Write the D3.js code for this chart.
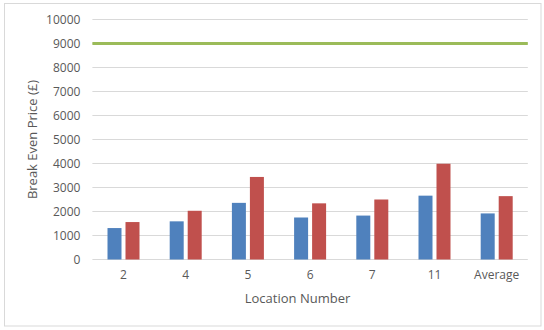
<!DOCTYPE html>
<html><head><meta charset="utf-8">
<script src="https://cdn.jsdelivr.net/npm/d3@7"></script>
<style>body{margin:0;background:#fff}svg{display:block}text{font-family:"Open Sans",sans-serif;fill:#595959}</style>
</head><body>
<svg id="c" width="544" height="330"></svg>
<script>
const categories = ["2","4","5","6","7","11","Average"];
const seriesA = [1310,1590,2360,1750,1830,2660,1920];
const seriesB = [1560,2030,3440,2340,2500,3990,2640];
const targetLine = [9000];
const yTicks = [0,1000,2000,3000,4000,5000,6000,7000,8000,9000,10000];
const xTitle = "Location Number";
const yTitle = "Break Even Price (£)";

const svg = d3.select("#c");
const m = {l:92.4, r:527.8, t:19.5, b:259.5};
svg.append("rect").attr("x",4.5).attr("y",3.5).attr("width",536.5).attr("height",322.5)
  .attr("fill","#fff").attr("stroke","#D9D9D9").attr("stroke-width",1);

const x = d3.scaleBand().domain(categories).range([m.l,m.r]).paddingInner(0).paddingOuter(0);
const y = d3.scaleLinear().domain([0,10000]).range([m.b,m.t]);

svg.append("g").selectAll("line").data(yTicks).join("line")
  .attr("x1",m.l).attr("x2",m.r).attr("y1",d=>y(d)).attr("y2",d=>y(d))
  .attr("stroke","#D9D9D9").attr("stroke-width",1);

const yAxis = d3.axisLeft(y).tickValues(yTicks).tickSize(0).tickPadding(12).tickFormat(d3.format("d"));
const gy = svg.append("g").attr("transform",`translate(${m.l},0)`).call(yAxis);
gy.select(".domain").remove();
gy.selectAll("text").attr("font-size","12px").attr("fill","#595959").style("font-family","'Open Sans',sans-serif");

const xAxis = d3.axisBottom(x).tickSize(0).tickPadding(11);
const gx = svg.append("g").attr("transform",`translate(0,${m.b})`).call(xAxis);
gx.select(".domain").remove();
gx.selectAll("text").attr("font-size","12px").attr("fill","#595959").style("font-family","'Open Sans',sans-serif");

const bw = 14, gap = 4;
const data = categories.map((c,i)=>({c,a:seriesA[i],b:seriesB[i]}));
svg.append("g").selectAll("rect").data(data).join("rect")
  .attr("x",d=>x(d.c)+x.bandwidth()/2-gap/2-bw).attr("width",bw)
  .attr("y",d=>y(d.a)).attr("height",d=>y(0)-y(d.a)).attr("fill","#4F81BD");
svg.append("g").selectAll("rect").data(data).join("rect")
  .attr("x",d=>x(d.c)+x.bandwidth()/2+gap/2).attr("width",bw)
  .attr("y",d=>y(d.b)).attr("height",d=>y(0)-y(d.b)).attr("fill","#C0504D");

svg.append("g").selectAll("line").data(targetLine).join("line")
  .attr("x1",m.l).attr("x2",m.r).attr("y1",d=>y(d)).attr("y2",d=>y(d))
  .attr("stroke","#9BBB59").attr("stroke-width",3);

svg.append("text").attr("x",297.5).attr("y",303).attr("text-anchor","middle")
  .attr("font-size","13px").text(xTitle);
svg.append("text").attr("transform",`translate(37,${(m.t+m.b)/2}) rotate(-90)`)
  .attr("text-anchor","middle").attr("font-size","13px").text(yTitle);
</script>
</body></html>
